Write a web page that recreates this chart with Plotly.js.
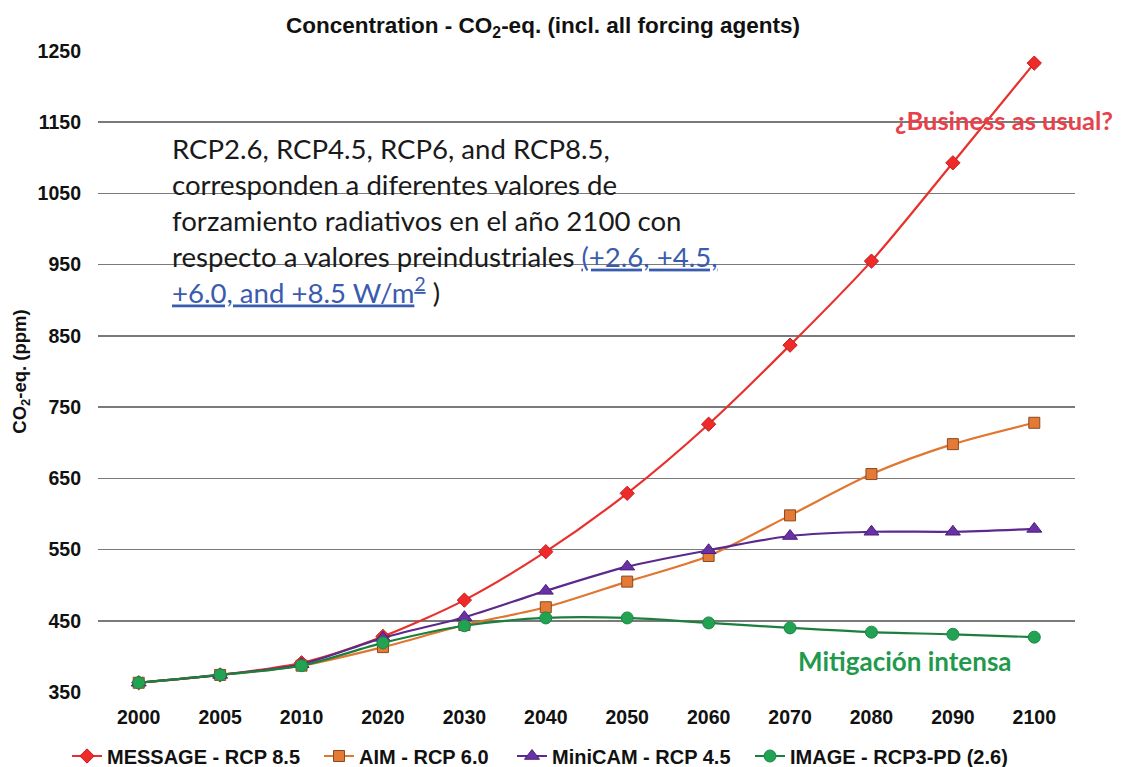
<!DOCTYPE html>
<html>
<head>
<meta charset="utf-8">
<script src="https://cdn.plot.ly/plotly-3.0.1.min.js"></script>
<style>html,body{margin:0;padding:0;background:#fff;}#chart{width:1124px;height:767px;}</style>
</head>
<body>
<div id="chart"></div>
<script>
const years = ['2000','2005','2010','2020','2030','2040','2050','2060','2070','2080','2090','2100'];
const rcp85 = [363, 374, 391, 428, 479, 547, 629, 726, 837, 955, 1093, 1233];
const rcp60 = [363, 374, 387, 413, 444, 469, 505, 541, 598, 656, 698, 728];
const rcp45 = [363, 374, 389, 426, 455, 492, 526, 549, 569, 575, 575, 579];
const rcp26 = [363, 374, 387, 419, 443, 454, 454, 447, 440, 434, 431, 427];
const seriesNames = ['MESSAGE - RCP 8.5', 'AIM - RCP 6.0', 'MiniCAM - RCP 4.5', 'IMAGE - RCP3-PD (2.6)'];
const yTicks = [350, 450, 550, 650, 750, 850, 950, 1050, 1150, 1250];

const F = 'Arial, "Liberation Sans", sans-serif';
const CAL = 'Lato, "Open Sans", sans-serif';

function tr(y, name, legendId, lineColor, mColor, mLine, symbol, size) {
  return {
    x: years, y: y, name: name, type: 'scatter', mode: 'lines+markers', legend: legendId,
    line: {color: lineColor, width: 2.2, shape: 'spline', smoothing: 0.8},
    marker: {color: mColor, symbol: symbol, size: size, line: {color: mLine, width: 1}}
  };
}

const data = [
  tr(rcp85, seriesNames[0], 'legend',  '#e8302c', '#ee2a2a', '#c41e1e', 'diamond', 11),
  tr(rcp60, seriesNames[1], 'legend2', '#e0762f', '#e47a35', '#8a4a20', 'square', 11),
  tr(rcp45, seriesNames[2], 'legend3', '#5b2a8c', '#6a30a5', '#4a1f78', 'triangle-up', 13),
  tr(rcp26, seriesNames[3], 'legend4', '#1b7f3d', '#22a253', '#1a8a44', 'circle', 12)
];

function leg(xpx) {
  return {
    orientation: 'h', xref: 'container', x: xpx / 1124, xanchor: 'left',
    yref: 'container', y: 1 - 756 / 767, yanchor: 'middle',
    font: {family: F, size: 20, color: '#111', weight: 'bold'},
    bgcolor: 'rgba(0,0,0,0)', borderwidth: 0
  };
}

const layout = {
  width: 1124, height: 767,
  margin: {l: 98, r: 49, t: 51, b: 75},
  paper_bgcolor: '#fff', plot_bgcolor: '#fff',
  showlegend: true,
  title: {
    text: 'Concentration - CO<sub>2</sub>-eq. (incl. all forcing agents)',
    font: {family: F, size: 22.5, color: '#111', weight: 'bold'},
    xref: 'paper', x: 0.4555, xanchor: 'center',
    yref: 'container', y: 0.967, yanchor: 'middle'
  },
  xaxis: {
    type: 'category', range: [-0.5, 11.5],
    showgrid: false, zeroline: false, showline: false, ticks: '',
    ticklabelstandoff: 11,
    tickfont: {family: F, size: 19.5, color: '#111', weight: 'bold'},
    fixedrange: true
  },
  yaxis: {
    range: [350, 1250], tickvals: yTicks,
    showgrid: true, gridcolor: '#7a7a7a', gridwidth: 1.6,
    zeroline: false, showline: false, ticks: '',
    ticklabelstandoff: 16,
    tickfont: {family: F, size: 19.5, color: '#111', weight: 'bold'},
    title: {text: 'CO<sub>2</sub>-eq. (ppm)', font: {family: F, size: 18.5, color: '#111', weight: 'bold'}, standoff: 6},
    fixedrange: true
  },
  legend: leg(67),
  legend2: leg(319),
  legend3: leg(512),
  legend4: leg(750),
  annotations: [
    {
      xref: 'paper', yref: 'paper', x: 0.0737, y: 0.876, xanchor: 'left', yanchor: 'top', align: 'left',
      showarrow: false,
      font: {family: CAL, size: 27.6, color: '#1a1a1a'},
      text: 'RCP2.6, RCP4.5, RCP6, and RCP8.5,<br>corresponden a diferentes valores de<br>forzamiento radiativos en el año 2100 con<br>respecto a valores preindustriales <span style="color:#3a5cae"><u>(+2.6, +4.5,</u></span><br><span style="color:#3a5cae"><u>+6.0, and +8.5 W/m<sup>2</sup></u></span> )'
    },
    {
      xref: 'paper', yref: 'paper', x: (893 - 98) / 977, y: (692 - 120) / 641, xanchor: 'left', yanchor: 'middle',
      showarrow: false,
      font: {family: CAL, size: 25.5, color: '#e8414a', weight: 'bold'},
      text: '¿Business as usual?'
    },
    {
      xref: 'paper', yref: 'paper', x: (796 - 98) / 977, y: (692 - 661) / 641, xanchor: 'left', yanchor: 'middle',
      showarrow: false,
      font: {family: CAL, size: 26, color: '#1f9a4c', weight: 'bold'},
      text: 'Mitigación intensa'
    }
  ]
};

Plotly.newPlot('chart', data, layout, {displayModeBar: false, staticPlot: true});
</script>
</body>
</html>
